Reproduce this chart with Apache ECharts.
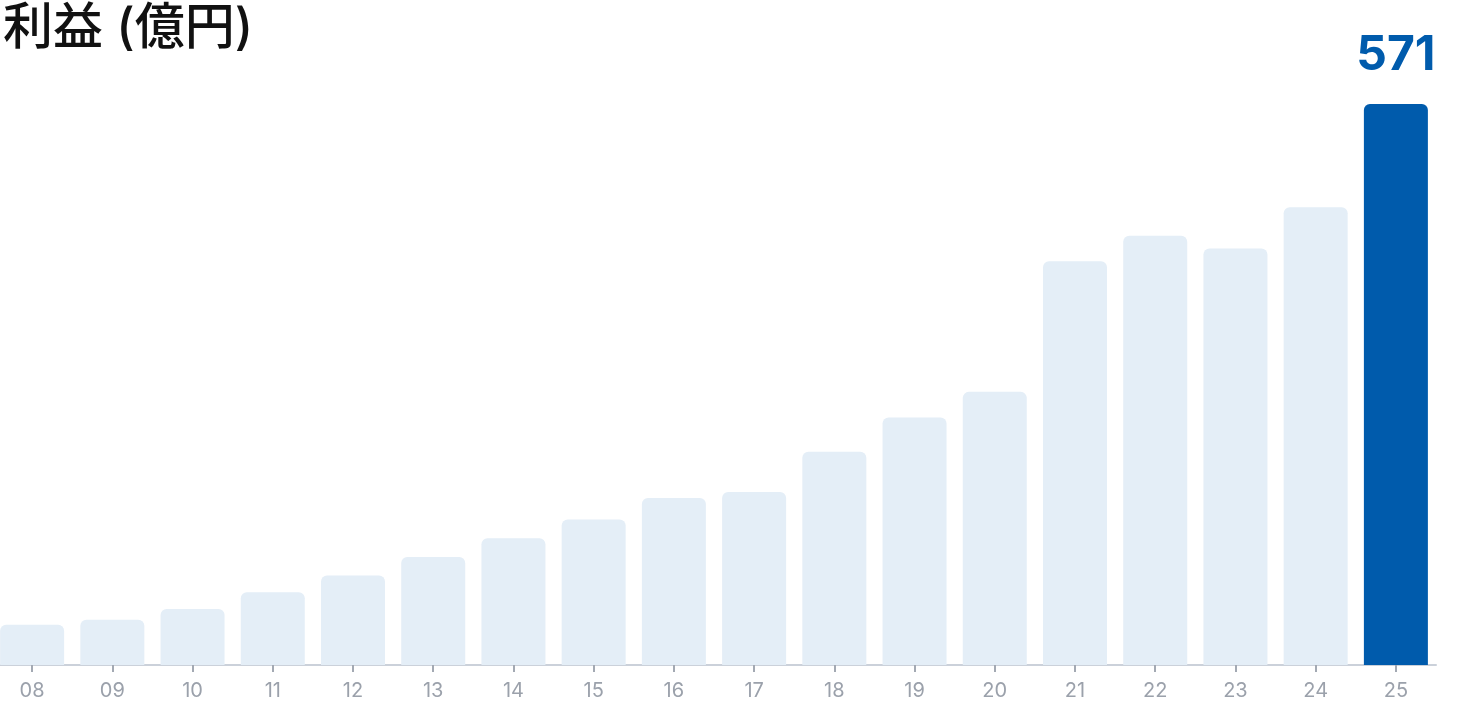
<!DOCTYPE html>
<html><head><meta charset="utf-8">
<script src="https://cdn.jsdelivr.net/npm/echarts@6/dist/echarts.min.js"></script>
<style>html,body{margin:0;padding:0;background:#fff;overflow:hidden}#c{width:1474px;height:702px;margin-left:-8px}</style>
</head><body><div id="c"></div>
<script>
const categories = ['08','09','10','11','12','13','14','15','16','17','18','19','20','21','22','23','24','25'];
const profits = [41, 46, 57, 74, 91, 110, 129, 148, 170, 176, 217, 252, 278, 411, 437, 424, 466, 571];
const titleText = '利益 (億円)';
const highlightIndex = categories.length - 1;

const chart = echarts.init(document.getElementById('c'));
chart.setOption({
  animation: false,
  title: {
    text: titleText, left: 6, top: -1,
    textStyle: { fontFamily: 'Inter, "Noto Sans CJK JP"', fontSize: 50, fontWeight: 500, color: '#111' }
  },
  grid: { left: 0, width: 1444, top: 104, bottom: 37, containLabel: false },
  xAxis: {
    type: 'category', data: categories,
    axisLine: { show: true, lineStyle: { color: '#CBD1DA', width: 2 } },
    axisTick: { show: true, alignWithLabel: true, length: 7, lineStyle: { color: '#A3A9B3', width: 2 } },
    axisLabel: { color: '#9BA1AB', fontSize: 20, fontFamily: 'Inter', margin: 16 }
  },
  yAxis: { type: 'value', min: 0, max: 571, show: false, splitLine: { show: false } },
  series: [{
    type: 'bar', barWidth: 64,
    data: profits.map((v, i) => ({
      value: v,
      itemStyle: { color: i === highlightIndex ? '#005BAC' : '#E4EEF7' },
      label: i === highlightIndex ? {
        show: true, position: 'top', distance: 24,
        color: '#005BAC', fontSize: 48, fontWeight: 'bold', fontFamily: 'Inter'
      } : { show: false }
    })),
    itemStyle: { borderRadius: [6, 6, 0, 0] }
  }]
});
</script></body></html>
